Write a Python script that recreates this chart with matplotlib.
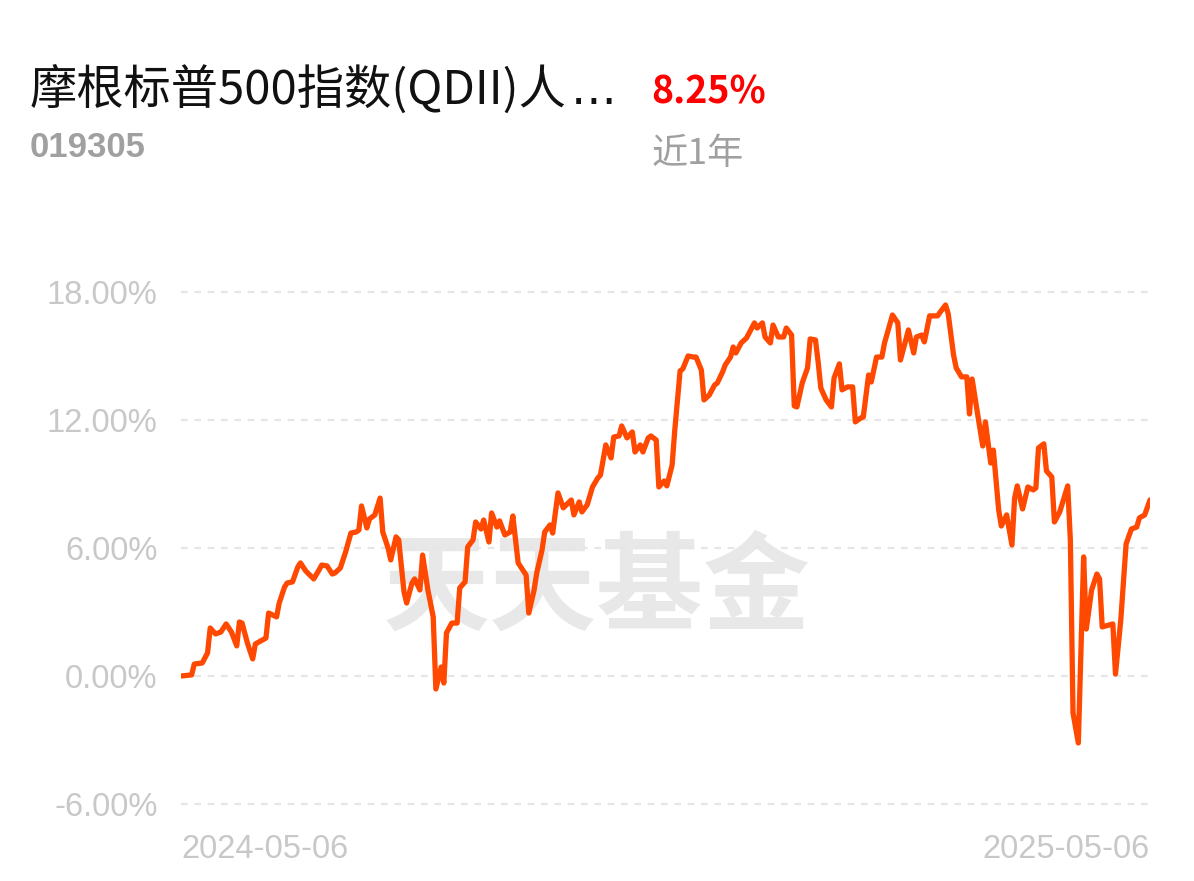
import matplotlib
matplotlib.use("Agg")
import matplotlib.pyplot as plt

plt.rcParams['font.family'] = ['Noto Sans CJK SC', 'DejaVu Sans']

# 数据：距 2024-05-06 的天数 与 累计收益率(%)
day_offset = [0, 4, 5, 8, 10, 11, 13, 15, 17, 19, 21, 22, 23, 25, 27, 28, 32, 33, 36, 37,
              39, 40, 42, 44, 45, 47, 50, 52, 53, 55, 57, 58, 60, 62, 64, 66, 67, 68, 70, 71,
              73, 75, 76, 78, 79, 81, 82, 84, 85, 87, 88, 90, 91, 93, 95, 96, 98, 99, 100, 102,
              104, 105, 107, 108, 110, 111, 113, 114, 116, 117, 119, 120, 122, 124, 125, 127, 128, 130, 131, 133,
              134, 136, 137, 139, 140, 142, 144, 147, 148, 150, 151, 153, 155, 157, 158, 160, 162, 163, 165, 166,
              168, 170, 171, 173, 174, 176, 177, 179, 180, 182, 183, 185, 186, 188, 189, 191, 193, 194, 196, 197,
              199, 201, 202, 204, 205, 207, 208, 209, 211, 213, 214, 216, 217, 219, 220, 222, 223, 225, 227, 228,
              230, 231, 232, 234, 236, 237, 239, 240, 241, 243, 245, 246, 248, 249, 251, 253, 254, 256, 257, 259,
              260, 262, 264, 265, 268, 270, 271, 273, 274, 276, 277, 279, 280, 282, 285, 286, 288, 289, 291, 292,
              294, 296, 297, 298, 300, 302, 303, 305, 306, 308, 309, 311, 313, 314, 315, 317, 319, 321, 322, 323,
              325, 326, 328, 329, 331, 334, 335, 336, 338, 340, 341, 343, 345, 346, 347, 351, 352, 354, 356, 358,
              360, 361, 363, 365]
returns = [0.00, 0.05, 0.56, 0.61, 1.08, 2.25, 1.97, 2.06, 2.44, 2.06, 1.41, 2.53, 2.48, 1.55, 0.80, 1.50, 1.78, 2.95, 2.77, 3.42,
           4.17, 4.36, 4.41, 5.11, 5.30, 4.92, 4.55, 4.97, 5.20, 5.16, 4.78, 4.83, 5.06, 5.81, 6.70, 6.75, 6.84, 7.97, 6.94, 7.36,
           7.55, 8.34, 6.75, 6.00, 5.44, 6.52, 6.38, 3.94, 3.42, 4.36, 4.55, 4.03, 5.67, 4.03, 2.77, -0.61, 0.42, -0.33, 2.02, 2.48,
           2.48, 4.13, 4.41, 6.05, 6.38, 7.22, 6.89, 7.31, 6.28, 7.64, 6.98, 7.27, 6.61, 6.75, 7.50, 5.30, 5.11, 4.73, 2.95, 4.03,
           4.83, 5.91, 6.75, 7.08, 6.70, 8.58, 7.88, 8.25, 7.55, 8.16, 7.69, 8.02, 8.86, 9.28, 9.42, 10.83, 10.22, 11.20, 11.25, 11.72,
           11.16, 11.44, 10.50, 10.83, 10.50, 11.16, 11.25, 11.06, 8.86, 9.14, 8.91, 9.89, 11.53, 14.30, 14.39, 15.00, 14.95, 14.95, 14.34, 12.94,
           13.17, 13.64, 13.73, 14.25, 14.58, 14.95, 15.42, 15.14, 15.61, 15.84, 16.08, 16.55, 16.31, 16.55, 15.89, 15.61, 16.45, 15.89, 15.89, 16.31,
           15.98, 12.66, 12.61, 13.73, 14.44, 15.80, 15.75, 14.72, 13.50, 12.94, 12.61, 13.97, 14.63, 13.41, 13.55, 13.55, 11.91, 12.09, 12.14, 14.11,
           13.78, 14.95, 14.95, 15.61, 16.92, 16.55, 14.81, 15.75, 16.22, 15.14, 15.89, 15.98, 15.66, 16.88, 16.88, 17.06, 17.39, 16.97, 15.05, 14.44,
           14.02, 14.02, 12.28, 13.92, 12.33, 10.78, 11.91, 9.98, 10.59, 7.78, 7.03, 7.55, 6.14, 8.34, 8.91, 7.83, 8.86, 8.72, 8.81, 10.69,
           10.88, 9.61, 9.33, 7.22, 7.69, 8.91, 6.38, -1.73, -3.14, 5.58, 2.20, 4.03, 4.78, 4.55, 2.30, 2.44, 0.09, 2.63, 6.19, 6.89,
           6.98, 7.41, 7.55, 8.25]

y_ticks = [-6, 0, 6, 12, 18]
x_tick_labels = ['2024-05-06', '2025-05-06']
fund_name = '摩根标普500指数(QDII)人'
fund_code = '019305'
period_return = '8.25%'
period_label = '近1年'

W, H = 1194, 881
fig = plt.figure(figsize=(W / 100, H / 100), dpi=100)
ax = fig.add_axes([181 / W, 0.0753, 969 / W, 0.6054])

# 水印
ax.text(0.429, 0.421, '天天基金', transform=ax.transAxes, ha='center', va='center',
        fontsize=77, fontweight='bold', color='#e8e8e8', zorder=0)

ax.plot(day_offset, returns, color='#ff4800', linewidth=3.8, solid_joinstyle='round',
        solid_capstyle='round', zorder=3)

ax.set_xlim(0, 365)
ax.set_ylim(-6.5, 18.5)
ax.set_yticks(y_ticks)
ax.set_yticklabels(['%.2f%%' % v for v in y_ticks], family='Liberation Sans')
ax.grid(axis='y', color='#e6e6e6', linestyle=(0, (3, 3)), linewidth=1.6)
ax.set_xticks([0, 365])
ax.set_xticklabels(x_tick_labels, family='Liberation Sans')
xl = ax.get_xticklabels()
xl[0].set_ha('left')
xl[1].set_ha('right')
ax.tick_params(axis='y', length=0, pad=17, labelsize=23.5, labelcolor='#c8c8c8')
ax.tick_params(axis='x', length=0, pad=14, labelsize=23.5, labelcolor='#c8c8c8')
for s in ax.spines.values():
    s.set_visible(False)

# 标题区
t = fig.text(30 / W, 1 - 104 / H, fund_name, fontsize=34, color='#111111', va='baseline')
r = fig.canvas.get_renderer()
bb = t.get_window_extent(renderer=r)
fig.text((bb.x1 + 4) / W, 1 - 104 / H, '…', fontsize=33, color='#111111', va='baseline',
         family='DejaVu Sans')
fig.text(651 / W, 1 - 103 / H, period_return, fontsize=27, fontweight='bold', color='#ff0000', va='baseline')
fig.text(30 / W, 1 - 157 / H, fund_code, fontsize=25, fontweight='bold', color='#a0a0a0', va='baseline',
         family='Liberation Sans')
fig.text(652 / W, 1 - 164 / H, period_label, fontsize=26, color='#a0a0a0', va='baseline')

fig.savefig('out.png', dpi=100)
